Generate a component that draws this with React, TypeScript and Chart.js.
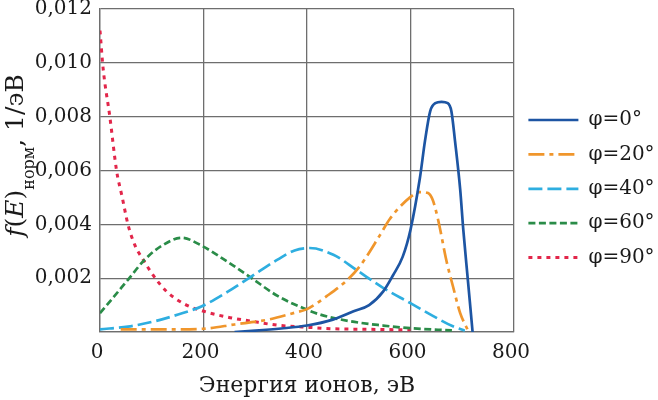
import { useEffect, useRef } from "react";
import { Chart, registerables } from "chart.js";

Chart.register(...registerables);

// энергия ионов, эВ и нормированная функция распределения, 1/эВ
const phi0E = [260, 300, 350, 400, 450, 490, 520, 547, 566, 585, 600, 618, 628, 638, 648, 660, 672, 679, 686, 696, 702, 711, 720];
const phi0F = [0, 0.00005, 0.00013, 0.00024, 0.00046, 0.00077, 0.001, 0.0015, 0.0021, 0.0028, 0.0038, 0.0057, 0.0071, 0.0082, 0.0085, 0.00855, 0.0085, 0.0082, 0.0071, 0.0053, 0.0038, 0.0019, 0];

const phi20E = [40, 100, 150, 200, 260, 325, 377, 400, 438, 476, 502, 541, 560, 599, 618, 634, 643, 653, 670, 682, 696, 710];
const phi20F = [0.0001, 0.0001, 0.0001, 0.00012, 0.00028, 0.00046, 0.00072, 0.00085, 0.00133, 0.0019, 0.00244, 0.0036, 0.0042, 0.005, 0.0052, 0.00516, 0.0049, 0.0042, 0.0026, 0.0017, 0.0007, 0.0001];

const phi40E = [0, 54, 106, 151, 197, 247, 293, 344, 376, 405, 451, 496, 547, 599, 644, 682, 705];
const phi40F = [0.0001, 0.0002, 0.0004, 0.00065, 0.00096, 0.0015, 0.00207, 0.0027, 0.00303, 0.00312, 0.00287, 0.0023, 0.00164, 0.00108, 0.00059, 0.00021, 0.00005];

const phi60E = [0, 22, 54, 87, 119, 158, 197, 247, 293, 344, 396, 425, 483, 547, 600, 680];
const phi60F = [0.0007, 0.0012, 0.00194, 0.0027, 0.0032, 0.0035, 0.0032, 0.0026, 0.002, 0.00133, 0.00086, 0.00065, 0.0004, 0.00024, 0.00014, 0.00006];

const phi90E = [0, 6, 19, 32, 43, 54, 68, 83, 103, 129, 167, 195, 247, 293, 344, 390, 450, 520, 600];
const phi90F = [0.0112, 0.0098, 0.008, 0.006, 0.005, 0.004, 0.0032, 0.0027, 0.0021, 0.0015, 0.001, 0.0008, 0.00055, 0.0004, 0.00025, 0.00019, 0.00012, 0.0001, 0.00008];

const seriesLabels = ["φ=0°", "φ=20°", "φ=40°", "φ=60°", "φ=90°"];
const seriesColors = ["#1d55a3", "#f0962c", "#2eaee0", "#2a8c48", "#e2264a"];
const seriesDash = [[], [16, 5, 4, 5], [14, 5], [7, 3.5], [4, 5]];
const seriesWidth = [2.7, 2.7, 2.7, 2.7, 3];

const xTicks = [0, 200, 400, 600, 800];
const yTicks = [0, 0.002, 0.004, 0.006, 0.008, 0.01, 0.012];

const FONT = "'DejaVu Serif', 'Liberation Serif', serif";
const GRID = "#6e6e6e";

const toPoints = (e: number[], f: number[]) => e.map((x, i) => ({ x, y: f[i] }));

// подпись оси Y с индексом "норм"
const yTitlePlugin = {
  id: "yTitle",
  afterDraw(chart: Chart) {
    const { ctx, chartArea } = chart;
    const cy = (chartArea.top + chartArea.bottom) / 2 - 15;
    const parts = [
      { t: "f", f: `italic 25px ${FONT}`, dy: 0 },
      { t: "(", f: `25px ${FONT}`, dy: 0 },
      { t: "E", f: `italic 25px ${FONT}`, dy: 0 },
      { t: ")", f: `25px ${FONT}`, dy: 0 },
      { t: "норм", f: `16px ${FONT}`, dy: 11 },
      { t: ", 1/эВ", f: `25px ${FONT}`, dy: 0 },
    ];
    ctx.save();
    ctx.fillStyle = "#1a1a1a";
    ctx.textBaseline = "alphabetic";
    let total = 0;
    const widths = parts.map((p) => {
      ctx.font = p.f;
      const w = ctx.measureText(p.t).width;
      total += w;
      return w;
    });
    ctx.translate(0, cy);
    ctx.rotate(-Math.PI / 2);
    let x = -total / 2;
    parts.forEach((p, i) => {
      ctx.font = p.f;
      ctx.fillText(p.t, x, 23 + p.dy);
      x += widths[i];
    });
    ctx.restore();
  },
};

export default function App() {
  const canvasRef = useRef<HTMLCanvasElement | null>(null);
  const chartRef = useRef<Chart | null>(null);

  useEffect(() => {
    if (!canvasRef.current) return;

    const allE = [phi0E, phi20E, phi40E, phi60E, phi90E];
    const allF = [phi0F, phi20F, phi40F, phi60F, phi90F];

    chartRef.current = new Chart(canvasRef.current, {
      type: "line",
      data: {
        datasets: seriesLabels.map((label, i) => ({
          label,
          data: toPoints(allE[i], allF[i]),
          borderColor: seriesColors[i],
          backgroundColor: seriesColors[i],
          borderDash: seriesDash[i],
          borderWidth: seriesWidth[i],
          pointRadius: 0,
          cubicInterpolationMode: "monotone" as const,
          fill: false,
        })),
      },
      options: {
        animation: false,
        responsive: true,
        maintainAspectRatio: false,
        layout: { padding: { left: 30, top: 0, right: 0, bottom: 0 } },
        plugins: {
          tooltip: { enabled: false },
          legend: {
            position: "right",
            fullSize: false,
            maxWidth: 144,
            title: { display: true, text: "", font: { size: 10, lineHeight: 1.2 }, padding: { top: 12, bottom: 12.6 } },
            labels: {
              usePointStyle: true,
              pointStyle: "line",
              pointStyleWidth: 50,
              boxHeight: 20,
              padding: 14.4,
              color: "#1a1a1a",
              font: { family: FONT, size: 20 },
              generateLabels: (chart) =>
                Chart.defaults.plugins.legend.labels.generateLabels(chart).map((item, i) => ({
                  ...item,
                  pointStyle: "line",
                  strokeStyle: seriesColors[i],
                  lineDash: seriesDash[i],
                  lineWidth: seriesWidth[i],
                  lineCap: "butt",
                })),
            },
          },
        },
        scales: {
          x: {
            type: "linear",
            min: xTicks[0],
            max: xTicks[xTicks.length - 1],
            afterBuildTicks: (scale) => {
              scale.ticks = xTicks.map((value) => ({ value }));
            },
            afterFit: (scale) => {
              scale.height = 68;
            },
            ticks: {
              color: "#1a1a1a",
              font: { family: FONT, size: 20 },
              padding: 9,
              labelOffset: -3,
            },
            grid: { color: GRID, lineWidth: 1.3, drawTicks: false },
            border: { color: GRID, width: 1.3 },
            title: {
              display: true,
              text: "Энергия ионов, эВ",
              color: "#1a1a1a",
              font: { family: FONT, size: 22 },
              padding: { top: 4, bottom: 1 },
            },
          },
          y: {
            min: yTicks[0],
            max: yTicks[yTicks.length - 1],
            afterBuildTicks: (scale) => {
              scale.ticks = yTicks.map((value) => ({ value }));
            },
            afterFit: (scale) => {
              scale.width = 70;
            },
            ticks: {
              color: "#1a1a1a",
              font: { family: FONT, size: 20, lineHeight: 0.1 },
              padding: 8,
              callback: (v) => (Number(v) === 0 ? "" : Number(v).toFixed(3).replace(".", ",")),
            },
            grid: { color: GRID, lineWidth: 1.3, drawTicks: false },
            border: { color: GRID, width: 1.3 },
          },
        },
      },
      plugins: [yTitlePlugin],
    });

    return () => {
      chartRef.current?.destroy();
      chartRef.current = null;
    };
  }, []);

  return (
    <div style={{ position: "absolute", left: 0, top: 0, width: 658, height: 400, background: "#fff" }}>
      <canvas ref={canvasRef} />
    </div>
  );
}
